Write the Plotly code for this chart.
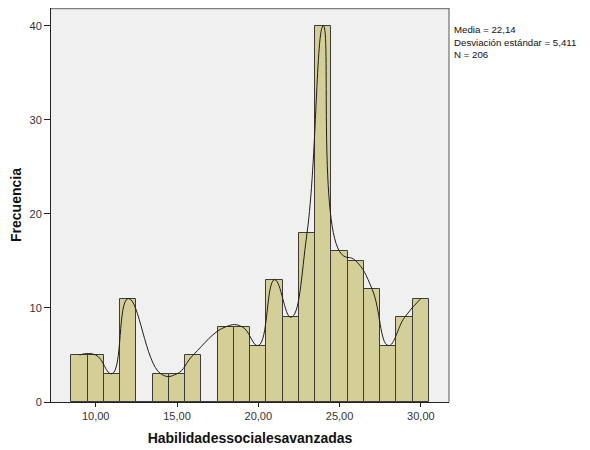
import plotly.graph_objects as go

# histogram bins (centre of each 1-unit bin) and counts
bin_centers = [9, 10, 11, 12, 13, 14, 15, 16, 17, 18, 19, 20,
               21, 22, 23, 24, 25, 26, 27, 28, 29, 30]
counts = [5, 5, 3, 11, 0, 3, 3, 5, 0, 8, 8, 6,
          13, 9, 18, 40, 16, 15, 12, 6, 9, 11]

x_tickvals = [10, 15, 20, 25, 30]
x_ticktext = ["10,00", "15,00", "20,00", "25,00", "30,00"]
y_tickvals = [0, 10, 20, 30, 40]

stats_lines = ["Media = 22,14", "Desviación estándar = 5,411", "N = 206"]

# the smooth line skips the empty bins
curve_x = [x for x, c in zip(bin_centers, counts) if c > 0]
curve_y = [c for c in counts if c > 0]

font_family = "Liberation Sans, Arial, sans-serif"

fig = go.Figure()
fig.add_trace(
    go.Bar(
        x=bin_centers,
        y=counts,
        width=1,
        marker=dict(color="#D4CF97", line=dict(color="#3C3C3C", width=1)),
        showlegend=False,
        hoverinfo="x+y",
    )
)
fig.add_trace(
    go.Scatter(
        x=curve_x,
        y=curve_y,
        mode="lines",
        line=dict(color="#1E1E1E", width=1, shape="spline", smoothing=1.3),
        showlegend=False,
        hoverinfo="skip",
    )
)

# the page body adds ~8px around the figure, so the figure is a bit smaller
fig.update_layout(
    width=582,
    height=442,
    margin=dict(l=43, r=141, t=0, b=48),
    paper_bgcolor="white",
    plot_bgcolor="#F0F0F0",
    font=dict(family=font_family, size=11, color="#333333"),
    bargap=0,
    xaxis=dict(
        range=[7.25, 31.73],
        tickvals=x_tickvals,
        ticktext=x_ticktext,
        ticks="outside",
        ticklen=4,
        tickcolor="#222222",
        showgrid=False,
        zeroline=False,
        showline=True,
        linecolor="#222222",
        linewidth=1,
        automargin=False,
        title=dict(
            text="<b>Habilidadessocialesavanzadas</b>",
            font=dict(size=14, color="#111111"),
            standoff=11,
        ),
    ),
    yaxis=dict(
        range=[0, 41.88],
        tickvals=y_tickvals,
        ticks="outside",
        ticklen=6,
        tickcolor="#222222",
        showgrid=False,
        zeroline=False,
        showline=True,
        linecolor="#222222",
        linewidth=1,
        automargin=False,
        title=dict(
            text="<b>Frecuencia</b>",
            font=dict(size=14, color="#111111"),
            standoff=8,
        ),
    ),
    shapes=[
        dict(type="line", xref="paper", yref="paper", x0=0, x1=1, y0=1, y1=1,
             line=dict(color="#808080", width=2.5)),
        dict(type="line", xref="paper", yref="paper", x0=1, x1=1, y0=0, y1=1,
             line=dict(color="#555555", width=1)),
    ],
    annotations=[
        dict(
            text="<br>".join(stats_lines),
            xref="paper", yref="paper",
            x=1.0, xshift=3, y=1.0, yshift=-34,
            xanchor="left", yanchor="middle",
            align="left",
            showarrow=False,
            font=dict(size=9.7, color="#111111"),
        )
    ],
)

fig.write_html("out.html")
